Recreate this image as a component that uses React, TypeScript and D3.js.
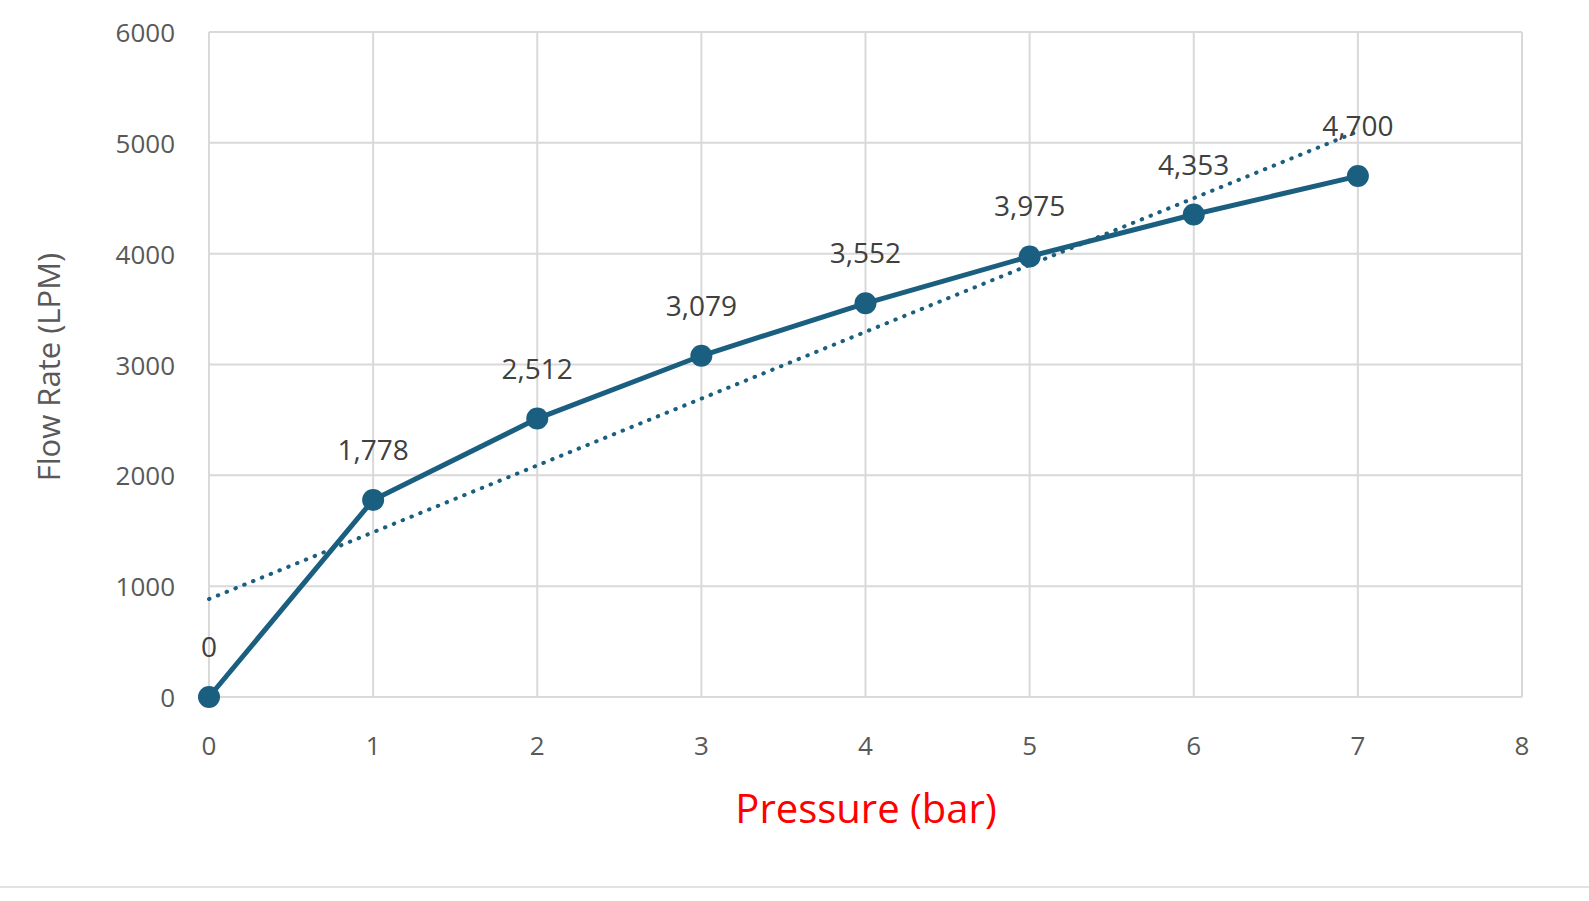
import React from "react";
import * as d3 from "d3";

const pressure = [0, 1, 2, 3, 4, 5, 6, 7];
const flow = [0, 1778, 2512, 3079, 3552, 3975, 4353, 4700];
const xTicks = [0, 1, 2, 3, 4, 5, 6, 7, 8];
const yTicks = [0, 1000, 2000, 3000, 4000, 5000, 6000];

export default function App() {
  const W = 1589, H = 901;
  const x = d3.scaleLinear().domain([0, 8]).range([209, 1522]);
  const y = d3.scaleLinear().domain([0, 6000]).range([697, 32]);
  const n = pressure.length;
  const mx = d3.mean(pressure)!, my = d3.mean(flow)!;
  const slope = d3.sum(pressure.map((p, i) => (p - mx) * (flow[i] - my))) / d3.sum(pressure.map(p => (p - mx) ** 2));
  const icpt = my - slope * mx;
  const line = d3.line<number>().x((_, i) => x(pressure[i])).y(d => y(d));
  const color = "#1b5f80";
  const font = "'Open Sans', 'Liberation Sans', sans-serif";
  const fmt = d3.format(",");
  return (
    <div style={{ position: "fixed", left: 0, top: 0, width: W, height: H, overflow: "hidden", background: "#fff" }}>
      <svg width={W} height={H} style={{ display: "block" }} fontFamily={font}>
        {xTicks.map(t => <line key={"gx" + t} x1={x(t)} x2={x(t)} y1={y(6000)} y2={y(0)} stroke="#d9d9d9" strokeWidth={2} />)}
        {yTicks.map(t => <line key={"gy" + t} x1={x(0)} x2={x(8)} y1={y(t)} y2={y(t)} stroke="#d9d9d9" strokeWidth={2} />)}
        {xTicks.map(t => <text key={"tx" + t} x={x(t)} y={755} textAnchor="middle" fontSize={26} fill="#595959">{t}</text>)}
        {yTicks.map(t => <text key={"ty" + t} x={175} y={y(t) + 10} textAnchor="end" fontSize={26} fill="#595959">{t}</text>)}
        <line x1={x(0)} x2={x(n - 1)} y1={y(icpt)} y2={y(icpt + slope * (n - 1))} stroke={color} strokeWidth={4} strokeDasharray="0.5 9" strokeLinecap="round" />
        <path d={line(flow)!} fill="none" stroke={color} strokeWidth={5} />
        {flow.map((v, i) => <circle key={"c" + i} cx={x(pressure[i])} cy={y(v)} r={11} fill={color} />)}
        {flow.map((v, i) => <text key={"l" + i} x={x(pressure[i])} y={y(v) - 40} textAnchor="middle" fontSize={28} fill="#404040">{fmt(v)}</text>)}
        <text x={866} y={823} textAnchor="middle" fontSize={40} fill="#ff0000">Pressure (bar)</text>
        <text transform={`translate(60,367) rotate(-90)`} textAnchor="middle" fontSize={31} fill="#595959">Flow Rate (LPM)</text>
        <line x1={0} x2={W} y1={887} y2={887} stroke="#d9d9d9" strokeWidth={1.5} />
      </svg>
    </div>
  );
}
